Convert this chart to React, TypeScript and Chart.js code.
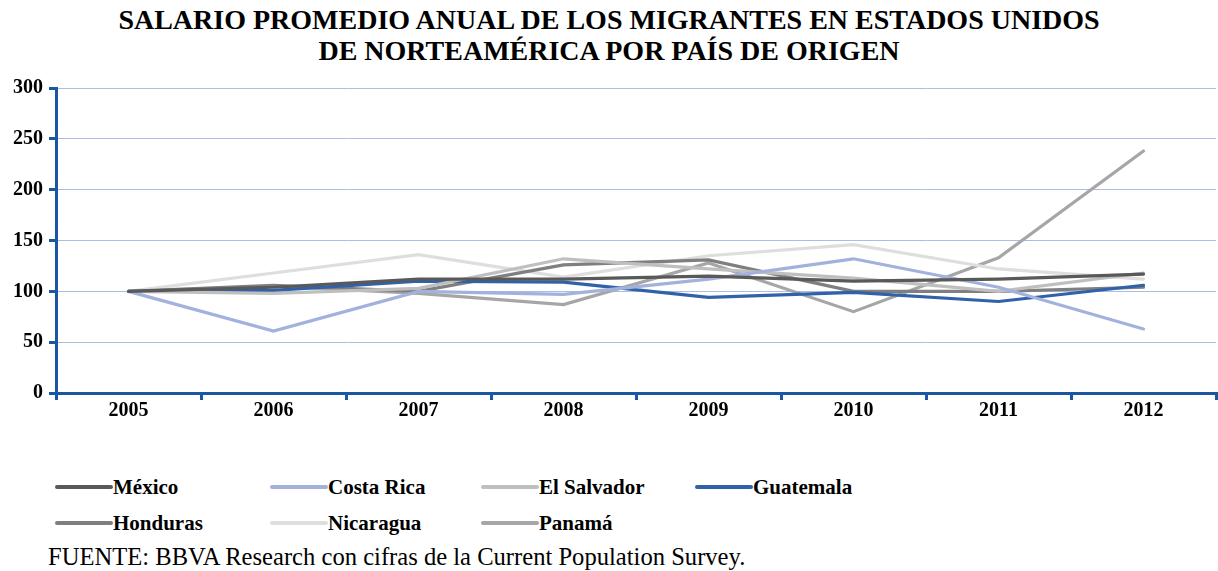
import React, { useEffect, useRef } from 'react';
import { Chart, registerables } from 'chart.js';

Chart.register(...registerables);

const years = ['2005', '2006', '2007', '2008', '2009', '2010', '2011', '2012'];
const mexico = [100, 104, 112, 112, 115, 110, 112, 117];
const costaRica = [100, 61, 100, 97, 112, 132, 104, 63];
const elSalvador = [100, 98, 103, 132, 122, 113, 100, 118];
const guatemala = [100, 101, 110, 109, 94, 99, 90, 106];
const honduras = [100, 106, 100, 126, 131, 100, 100, 104];
const nicaragua = [100, 118, 136, 114, 135, 146, 122, 112];
const panama = [100, 105, 98, 87, 128, 80, 133, 238];

const seriesNames = ['México', 'Costa Rica', 'El Salvador', 'Guatemala', 'Honduras', 'Nicaragua', 'Panamá'];
const seriesValues = [mexico, costaRica, elSalvador, guatemala, honduras, nicaragua, panama];
const seriesColors = ['#595959', '#A3B2DD', '#BFBFBF', '#2F62AA', '#7F7F7F', '#DEDEDE', '#A6A6A6'];

const titleLines = ['SALARIO PROMEDIO ANUAL DE LOS MIGRANTES EN ESTADOS UNIDOS', 'DE NORTEAMÉRICA POR PAÍS DE ORIGEN'];
const sourceText = 'FUENTE: BBVA Research con cifras de la Current Population Survey.';

const FONT = "'Liberation Serif', 'Times New Roman', serif";
const AXIS = '#1B56A2';
const GRID = '#AEBCE3';

export default function App() {
  const ref = useRef<HTMLCanvasElement>(null);

  useEffect(() => {
    const chart = new Chart(ref.current as HTMLCanvasElement, {
      type: 'line',
      data: {
        labels: years,
        datasets: seriesNames.map((name, i) => ({
          label: name,
          data: seriesValues[i],
          borderColor: seriesColors[i],
          backgroundColor: seriesColors[i],
          borderWidth: 3.2,
          pointRadius: 0,
          tension: 0,
          fill: false,
          borderCapStyle: 'round' as const,
        })),
      },
      options: {
        responsive: false,
        animation: false,
        devicePixelRatio: 1,
        layout: { padding: { top: 16, right: 2, left: 0, bottom: 0 } },
        plugins: {
          legend: { display: false },
          title: { display: false },
          tooltip: { enabled: false },
        },
        scales: {
          x: {
            offset: true,
            grid: {
              offset: true,
              drawOnChartArea: false,
              drawTicks: true,
              tickLength: 7,
              tickWidth: 3,
              tickColor: AXIS,
              lineWidth: 3,
              color: AXIS,
            },
            border: { color: AXIS, width: 3 },
            ticks: {
              color: '#000',
              font: { family: FONT, size: 20, weight: 'bold' },
              padding: -1,
              maxRotation: 0,
              autoSkip: false,
            },
            afterFit: (s: any) => {
              s.height = 37;
            },
          },
          y: {
            min: 0,
            max: 300,
            ticks: {
              stepSize: 50,
              color: '#000',
              font: { family: FONT, size: 20, weight: 'bold' },
              padding: 6,
            },
            grid: {
              color: GRID,
              lineWidth: 1,
              tickLength: 7,
              tickColor: AXIS,
              tickWidth: 3,
            },
            border: { color: AXIS, width: 3 },
            afterFit: (s: any) => {
              s.width = 56;
            },
          },
        },
      },
    });
    return () => chart.destroy();
  }, []);

  const legendRows = [
    [0, 1, 2, 3],
    [4, 5, 6],
  ];
  const colX = [55, 270, 481, 695];
  const rowY = [487, 523];

  return (
    <div
      style={{
        position: 'absolute',
        left: 0,
        top: 0,
        width: 1218,
        height: 571,
        background: '#fff',
        overflow: 'hidden',
        fontFamily: FONT,
      }}
    >
      {titleLines.map((t, i) => (
        <div
          key={i}
          style={{
            position: 'absolute',
            left: 0,
            width: 1218,
            top: 20 + i * 31 - 16,
            height: 32,
            lineHeight: '32px',
            textAlign: 'center',
            fontWeight: 'bold',
            fontSize: 28,
            color: '#000',
            whiteSpace: 'nowrap',
          }}
        >
          {t}
        </div>
      ))}
      <canvas
        ref={ref}
        width={1218}
        height={360}
        style={{ position: 'absolute', left: 0, top: 70, width: 1218, height: 360 }}
      />
      {legendRows.map((row, r) =>
        row.map((idx, c) => (
          <div
            key={idx}
            style={{
              position: 'absolute',
              left: colX[c],
              top: rowY[r] - 14,
              height: 28,
              display: 'flex',
              alignItems: 'center',
              whiteSpace: 'nowrap',
            }}
          >
            <span
              style={{
                display: 'inline-block',
                width: 58,
                height: 4,
                borderRadius: 2,
                background: seriesColors[idx],
              }}
            />
            <span style={{ fontWeight: 'bold', fontSize: 21, color: '#000', lineHeight: '28px' }}>
              {seriesNames[idx]}
            </span>
          </div>
        ))
      )}
      <div
        style={{
          position: 'absolute',
          left: 48,
          top: 557 - 15,
          height: 30,
          lineHeight: '30px',
          fontSize: 24.6,
          color: '#000',
          whiteSpace: 'nowrap',
        }}
      >
        {sourceText}
      </div>
    </div>
  );
}
